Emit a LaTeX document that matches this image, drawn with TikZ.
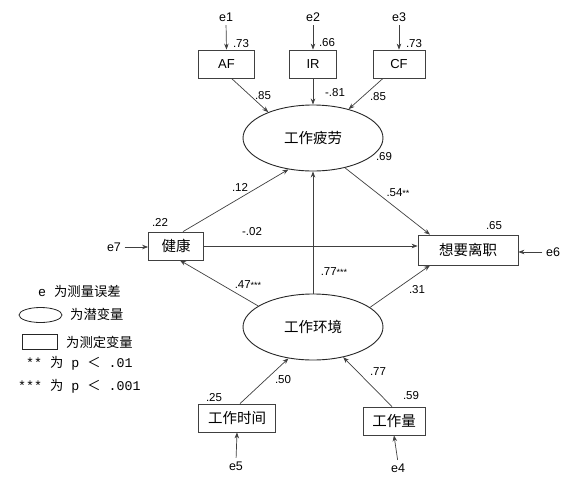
\documentclass[tikz,border=0pt]{standalone}
\usepackage{fontspec}
\setmainfont{Liberation Sans}
\newfontfamily\cjk{Noto Sans CJK SC}
\newfontfamily\mono{Liberation Mono}
\usetikzlibrary{arrows.meta,shapes.geometric}
\newcommand{\stars}[1]{\raisebox{0.5pt}{\fontsize{9}{9}\selectfont #1}}
\begin{document}
\begin{tikzpicture}[x=1pt,y=-1pt,
  ln/.style={draw=black!75, line width=0.7pt},
  arr/.style={ln,-{Stealth[length=6pt,width=4.5pt]}},
  earr/.style={arr, shorten <=2.5pt},
  box/.style={draw=black!75, line width=0.8pt, rectangle, inner sep=0pt, minimum height=28pt},
  lat/.style={draw=black!85, line width=0.9pt, ellipse, minimum width=140pt, minimum height=66pt, inner sep=0pt},
  num/.style={font=\fontsize{11.5}{12}\selectfont, inner sep=0pt},
  lbl/.style={font=\fontsize{12.5}{13}\selectfont, inner sep=1pt},
  zh/.style={font=\fontsize{14.5}{15}\selectfont\cjk},
  leg/.style={anchor=west, inner sep=0pt, font=\fontsize{13.3}{14}\selectfont\mono},
]
\fill[white] (0,0) rectangle (579,483);
\useasboundingbox (0,0) rectangle (579,483);

% error terms
\node[lbl] (e1) at (226,17) {e1};
\node[lbl] (e2) at (313,17) {e2};
\node[lbl] (e3) at (399,17) {e3};
\node[lbl] (e7) at (114,247) {e7};
\node[lbl] (e6) at (553,252) {e6};
\node[lbl] (e5) at (236,466) {e5};
\node[lbl] (e4) at (398,468) {e4};

% observed
\node[box, minimum width=56pt, font=\fontsize{13}{14}\selectfont] (AF) at (226.5,64) {AF};
\node[box, minimum width=47pt, font=\fontsize{13}{14}\selectfont] (IR) at (313,64) {IR};
\node[box, minimum width=52pt, font=\fontsize{13}{14}\selectfont] (CF) at (399,64) {CF};
\node[box, zh, minimum width=55pt] (jk) at (176,246) {健康};
\node[box, zh, minimum width=100pt, minimum height=30pt] (quit) at (468,250) {想要离职};
\node[box, zh, minimum width=77pt] (time) at (237,418) {工作时间};
\node[box, zh, minimum width=62pt] (load) at (394,421) {工作量};

% latent
\node[lat, zh] (fat) at (313,138) {工作疲劳};
\node[lat, zh] (env) at (313,327) {工作环境};

% arrows
\draw[earr] (e1.south) -- (AF.north);
\draw[earr] (e2.south) -- (IR.north);
\draw[earr] (e3.south) -- (CF.north);
\draw[earr] (e7.east) -- (e7.east -| jk.west);
\draw[earr] (e6.west) -- (e6.west -| quit.east);
\draw[earr] (e5.north) -- (time.south);
\draw[earr] (e4.north) -- (load.south);

\draw[arr] ([xshift=5pt]AF.south) -- (fat.150);
\draw[arr] (IR.south) -- (fat.90);
\draw[arr] ([xshift=-16pt]CF.south) -- (fat.39);
\draw[arr] ([xshift=7pt]jk.north) -- (fat.232);
\draw[arr] (env.90) -- (fat.270);
\draw[arr] (fat.317) -- ([xshift=-38pt]quit.north);
\draw[arr] (jk.east) -- (jk.east -| quit.west);
\draw[arr] (env.159) -- ([xshift=4pt]jk.south);
\draw[arr] (env.19) -- ([xshift=-38pt]quit.south);
\draw[arr] ([xshift=3pt]time.north) -- (env.232);
\draw[arr] ([xshift=-2pt]load.north) -- (env.315);

% coefficients
\node[num] at (241,44) {.73};
\node[num] at (327,43) {.66};
\node[num] at (414,44) {.73};
\node[num] at (263,96) {.85};
\node[num] at (335,93) {-.81};
\node[num] at (378,97) {.85};
\node[num] at (384,157) {.69};
\node[num] at (240,187) {.12};
\node[num] at (398,193) {.54\stars{**}};
\node[num] at (160,222) {.22};
\node[num] at (252,232) {-.02};
\node[num] at (494,226) {.65};
\node[num] at (248,285) {.47\stars{***}};
\node[num] at (334,272) {.77\stars{***}};
\node[num] at (417,290) {.31};
\node[num] at (283,380) {.50};
\node[num] at (378,372) {.77};
\node[num] at (214,398) {.25};
\node[num] at (411,396) {.59};

% legend
\node[leg] (l1) at (38,291) {e {\cjk 为测量误差}};
\node[draw=black!85, line width=0.8pt, ellipse, minimum width=43pt, minimum height=15pt, inner sep=0pt] (l2s) at (40.5,315) {};
\node[leg] (l2) at (70,314) {{\cjk 为潜变量}};
\node[draw=black!85, line width=0.8pt, rectangle, minimum width=35pt, minimum height=15pt, inner sep=0pt] (l3s) at (39.5,341.5) {};
\node[leg] (l3) at (66,342) {{\cjk 为测定变量}};
\node[leg] (l4) at (26,363) {** {\cjk 为} p {\cjk ＜} .01};
\node[leg] (l5) at (18,386) {*** {\cjk 为} p {\cjk ＜} .001};
\end{tikzpicture}
\end{document}
